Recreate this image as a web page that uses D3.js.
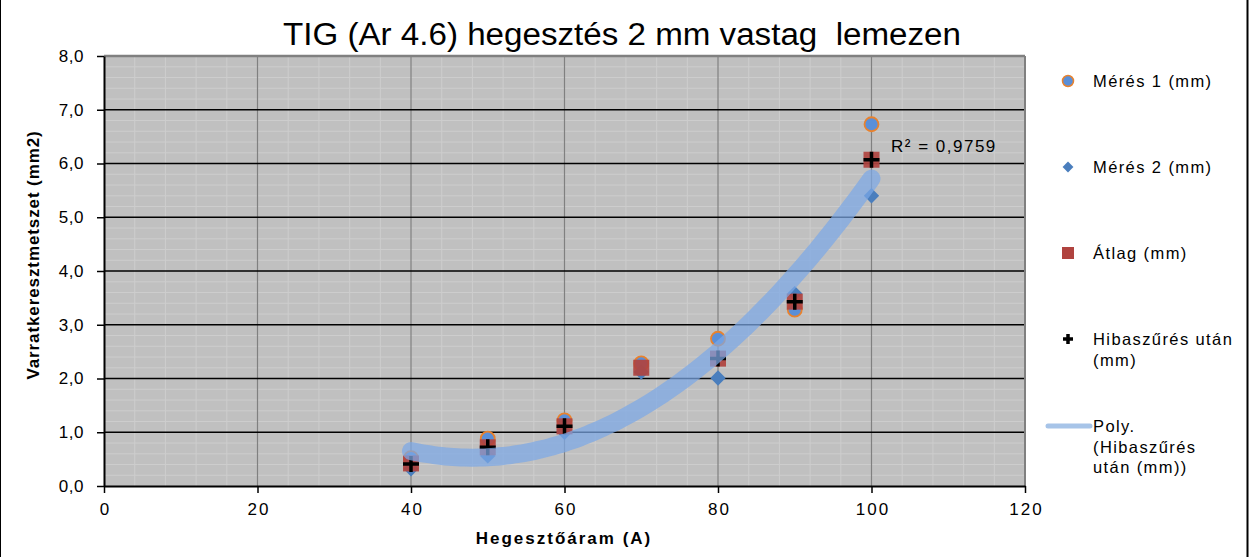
<!DOCTYPE html>
<html>
<head>
<meta charset="utf-8">
<script src="https://cdn.jsdelivr.net/npm/d3@7"></script>
<style>
body { margin: 0; background: #fff; }
text { font-family: "Liberation Sans", Arial, sans-serif; }
</style>
</head>
<body>
<svg></svg>
<script>
// chart values
var current = [40, 50, 60, 70, 80, 90, 100];
var meres1 = [0.52, 0.88, 1.22, 2.28, 2.74, 3.28, 6.73];
var meres2 = [0.32, 0.56, 1.00, 2.12, 2.01, 3.58, 5.40];
var atlag = [0.42, 0.72, 1.11, 2.20, 2.37, 3.43, 6.07];
var szurt = [0.41, 0.72, 1.11, null, 2.37, 3.43, 6.07];
var xTicks = [0, 20, 40, 60, 80, 100, 120];
var yTicks = [0, 1, 2, 3, 4, 5, 6, 7, 8];
var legendNames = ["Mérés 1 (mm)", "Mérés 2 (mm)", "Átlag (mm)", "Hibaszűrés után|(mm)", "Poly.|(Hibaszűrés|után (mm))"];

var svgWidth = 1249, svgHeight = 557;
var svg = d3.select("svg").attr("width", svgWidth).attr("height", svgHeight);

var plotLeft = 104, plotRight = 1025, plotTop = 56, plotBottom = 486;

var xScale = d3.scaleLinear().domain([0, 120]).range([plotLeft, plotRight]);
var yScale = d3.scaleLinear().domain([0, 8]).range([plotBottom, plotTop]);

// outer frame (only sides visible)
svg.append("line").attr("x1", 0.5).attr("x2", 0.5).attr("y1", 0).attr("y2", svgHeight).attr("stroke", "#000");
svg.append("line").attr("x1", 1247.5).attr("x2", 1247.5).attr("y1", 0).attr("y2", svgHeight).attr("stroke", "#000").attr("stroke-width", 2);

// plot background
svg.append("rect")
    .attr("x", plotLeft).attr("y", plotTop)
    .attr("width", plotRight - plotLeft).attr("height", plotBottom - plotTop)
    .attr("fill", "#c0c0c0");

// minor grid
var grid = svg.append("g");
grid.selectAll(".mx").data(d3.range(0, 121, 4).filter(function(d) { return d % 20 != 0; }))
    .enter().append("line")
    .attr("x1", function(d) { return xScale(d); }).attr("x2", function(d) { return xScale(d); })
    .attr("y1", plotTop).attr("y2", plotBottom)
    .attr("stroke", "#cdcdcd").attr("stroke-width", 1);
grid.selectAll(".my").data(d3.range(0, 40).map(function(i) { return i * 0.2; }).filter(function(d, i) { return i % 5 != 0; }))
    .enter().append("line")
    .attr("x1", plotLeft).attr("x2", plotRight)
    .attr("y1", function(d) { return yScale(d); }).attr("y2", function(d) { return yScale(d); })
    .attr("stroke", "#cdcdcd").attr("stroke-width", 1);

// major grid
grid.selectAll(".Mx").data(xTicks.slice(1, -1))
    .enter().append("line")
    .attr("x1", function(d) { return xScale(d); }).attr("x2", function(d) { return xScale(d); })
    .attr("y1", plotTop).attr("y2", plotBottom)
    .attr("stroke", "#808080").attr("stroke-width", 1.2);
grid.selectAll(".My").data(yTicks.slice(1, -1))
    .enter().append("line")
    .attr("x1", plotLeft).attr("x2", plotRight)
    .attr("y1", function(d) { return yScale(d); }).attr("y2", function(d) { return yScale(d); })
    .attr("stroke", "#000").attr("stroke-width", 1.5);

// plot border top and right
svg.append("line").attr("x1", plotLeft).attr("x2", plotRight).attr("y1", plotTop).attr("y2", plotTop).attr("stroke", "#808080").attr("stroke-width", 2.5);
svg.append("line").attr("x1", plotRight).attr("x2", plotRight).attr("y1", plotTop).attr("y2", plotBottom).attr("stroke", "#808080").attr("stroke-width", 2);

// axes
var x_axis = d3.axisBottom(xScale).tickValues(xTicks).tickSize(7).tickSizeOuter(0).tickPadding(10);
var y_axis = d3.axisLeft(yScale).tickValues(yTicks).tickSize(7).tickSizeOuter(0).tickPadding(13)
    .tickFormat(function(d) { return d3.format(".1f")(d).replace(".", ","); });

var gx = svg.append("g").attr("transform", "translate(0," + plotBottom + ")").call(x_axis);
var gy = svg.append("g").attr("transform", "translate(" + plotLeft + ",0)").call(y_axis);
[gx, gy].forEach(function(g) {
    g.select(".domain").attr("stroke", "#000").attr("stroke-width", 2);
    g.selectAll(".tick line").attr("stroke", "#000").attr("stroke-width", 1.5);
    g.selectAll(".tick text").attr("fill", "#000")
        .style("font-family", "'Liberation Sans', Arial, sans-serif").style("font-size", "17px");
});
gx.selectAll(".tick text").style("letter-spacing", "2px").attr("dx", "1px");
gy.selectAll(".tick text").style("letter-spacing", "0.5px");

// markers
var pts = current.map(function(c, i) { return { x: c, m1: meres1[i], m2: meres2[i], a: atlag[i], s: szurt[i] }; });
var marks = svg.append("g");

marks.selectAll(".m1").data(pts).enter().append("circle")
    .attr("cx", function(d) { return xScale(d.x); })
    .attr("cy", function(d) { return yScale(d.m1); })
    .attr("r", 7)
    .attr("fill", "#5a8fd8").attr("stroke", "#e8822e").attr("stroke-width", 1.8);

marks.selectAll(".m2").data(pts).enter().append("path")
    .attr("d", d3.symbol().type(d3.symbolDiamond2).size(150))
    .attr("transform", function(d) { return "translate(" + xScale(d.x) + "," + yScale(d.m2) + ")"; })
    .attr("fill", "#4a7ebd");

marks.selectAll(".av").data(pts).enter().append("rect")
    .attr("x", function(d) { return xScale(d.x) - 8; })
    .attr("y", function(d) { return yScale(d.a) - 8; })
    .attr("width", 16).attr("height", 16)
    .attr("fill", "#b0433f").attr("fill-opacity", 0.92);

marks.selectAll(".sz").data(pts.filter(function(d) { return d.s != null; })).enter().append("path")
    .attr("d", "M-8,0H8M0,-8V8")
    .attr("transform", function(d) { return "translate(" + xScale(d.x) + "," + yScale(d.s) + ")"; })
    .attr("stroke", "#000").attr("stroke-width", 3.5);

// quadratic least squares trendline on filtered points
var fitPts = pts.filter(function(d) { return d.s != null; });
function polyFit(data, order) {
    var n = order + 1;
    var A = [], B = [];
    for (var r = 0; r < n; r++) {
        A.push([]);
        for (var c = 0; c < n; c++) A[r].push(d3.sum(data, function(d) { return Math.pow(d.x, r + c); }));
        B.push(d3.sum(data, function(d) { return d.s * Math.pow(d.x, r); }));
    }
    for (var i = 0; i < n; i++) {
        for (var k = i + 1; k < n; k++) {
            var f = A[k][i] / A[i][i];
            for (var j = i; j < n; j++) A[k][j] -= f * A[i][j];
            B[k] -= f * B[i];
        }
    }
    var coef = new Array(n);
    for (var i2 = n - 1; i2 >= 0; i2--) {
        var s = B[i2];
        for (var j2 = i2 + 1; j2 < n; j2++) s -= A[i2][j2] * coef[j2];
        coef[i2] = s / A[i2][i2];
    }
    return coef;
}
var coef = polyFit(fitPts, 2);
function trend(x) { return coef[0] + coef[1] * x + coef[2] * x * x; }
var trendX = d3.range(40, 100.01, 1);
var line = d3.line()
    .x(function(d) { return xScale(d); })
    .y(function(d) { return yScale(trend(d)); })
    .curve(d3.curveBasis);
svg.append("path").datum(trendX)
    .attr("d", line)
    .attr("fill", "none")
    .attr("stroke", "#7ba7e6").attr("stroke-opacity", 0.72)
    .attr("stroke-width", 18).attr("stroke-linecap", "round").attr("stroke-linejoin", "round");

svg.append("text").attr("x", 891).attr("y", 152)
    .style("font-size", "17px").style("letter-spacing", "1.5px").attr("fill", "#000").text("R² = 0,9759");

// title
svg.append("text").attr("x", 622).attr("y", 45).attr("text-anchor", "middle")
    .style("font-size", "31px").attr("fill", "#000").attr("textLength", 678).attr("lengthAdjust", "spacingAndGlyphs")
    .attr("xml:space", "preserve").text("TIG (Ar 4.6) hegesztés 2 mm vastag  lemezen");

// axis titles
svg.append("text").attr("x", 564).attr("y", 544).attr("text-anchor", "middle")
    .style("font-size", "17px").style("font-weight", "bold").style("letter-spacing", "2px")
    .text("Hegesztőáram (A)");
svg.append("text").attr("transform", "translate(39,255) rotate(-90)").attr("text-anchor", "middle")
    .style("font-size", "17px").style("font-weight", "bold").style("letter-spacing", "0.9px")
    .text("Varratkeresztmetszet (mm2)");

// legend
var legendY = [81, 167, 253, 339, 426];
var lg = svg.append("g");
lg.append("circle").attr("cx", 1068).attr("cy", legendY[0]).attr("r", 5.5)
    .attr("fill", "#5a8fd8").attr("stroke", "#e8822e").attr("stroke-width", 1.5);
lg.append("path").attr("d", d3.symbol().type(d3.symbolDiamond2).size(75))
    .attr("transform", "translate(1068," + legendY[1] + ")").attr("fill", "#4a7ebd");
lg.append("rect").attr("x", 1062).attr("y", legendY[2] - 6).attr("width", 12).attr("height", 12).attr("fill", "#b0433f");
lg.append("path").attr("d", "M-5,0H5M0,-5V5").attr("transform", "translate(1068," + legendY[3] + ")")
    .attr("stroke", "#000").attr("stroke-width", 3.5);
lg.append("line").attr("x1", 1048).attr("x2", 1090).attr("y1", legendY[4]).attr("y2", legendY[4])
    .attr("stroke", "#a7c4e8").attr("stroke-width", 5).attr("stroke-linecap", "round");

legendNames.forEach(function(name, i) {
    var t = lg.append("text").attr("x", 1093).attr("y", legendY[i] + 6)
        .style("font-size", "16.5px").style("letter-spacing", "1.4px").attr("fill", "#000");
    name.split("|").forEach(function(part, j) {
        t.append("tspan").attr("x", 1093).attr("dy", j == 0 ? 0 : 20.5).text(part);
    });
});
</script>
</body>
</html>
